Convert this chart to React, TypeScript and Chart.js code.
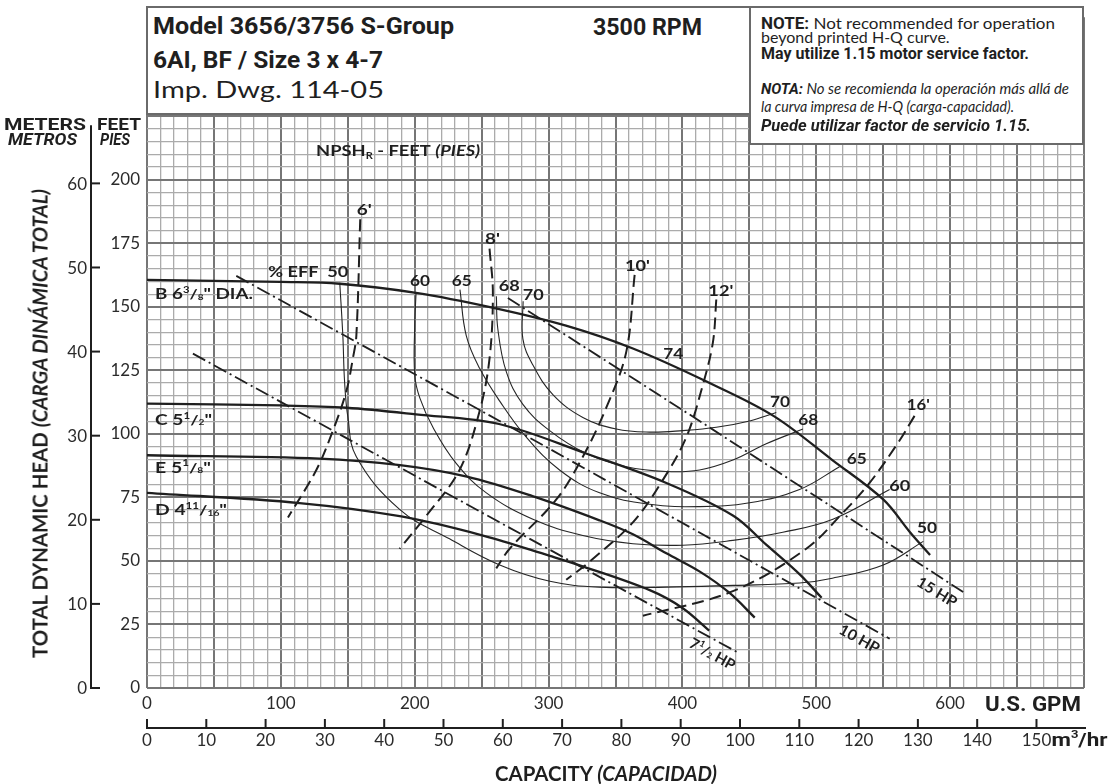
import React, { useEffect, useLayoutEffect, useRef } from "react";
import { Chart, registerables } from "chart.js";

Chart.register(...registerables);

const INK = "#1f1f1f";
const GRID_MINOR = "#ababab";
const GRID_MAJOR = "#767676";

type P = [number, number];

// ---- Head-capacity curves (GPM, feet) ----
const HEAD_B: P[] = [[0, 160.6], [100, 159.8], [144, 159.1], [201, 155.5], [258, 149.7], [313, 142.6], [363, 133.6], [418, 120.6], [468, 107.1], [512, 89.7], [550, 74.2], [570, 61.3], [585, 52.3]];
const HEAD_C: P[] = [[0, 111.9], [100, 111.2], [149, 110.3], [201, 107.7], [263, 103.9], [328, 92.3], [388, 80.7], [438, 67.8], [463, 56.2], [488, 44.5], [504, 35.5]];
const HEAD_E: P[] = [[0, 91.6], [129, 90.3], [189, 87.7], [239, 83.2], [288, 75.5], [338, 66], [363, 60.5], [388, 53], [413, 45.8], [435, 37.5], [454, 27.7]];
const HEAD_D: P[] = [[0, 76.8], [114, 72.8], [190, 67.5], [251, 60], [301, 52], [326, 47.8], [376, 38.4], [400, 31.5], [420, 22.6]];

// ---- Efficiency curves ----
const EFF_50: P[] = [[144, 159.5], [146.3, 138.7], [147.6, 120.6], [150.1, 106.5], [156.4, 91], [188.7, 70.3], [226, 58.7], [263.5, 48.4], [301, 42], [338, 39.7], [388, 39.7], [438, 40.4], [487.5, 41.3], [512, 43.2], [550, 48.4], [580, 57.7]];
const EFF_60: P[] = [[201, 155.5], [200, 142.6], [200, 123.2], [203.8, 114.2], [213.6, 102.6], [231, 88.4], [253.5, 76.8], [288.3, 66.4], [325.6, 60], [363, 56.8], [400.3, 56.2], [437.7, 58.1], [475, 61.3], [512.4, 66.4], [554.8, 78.1]];
const EFF_65: P[] = [[233.8, 156.8], [238.5, 138.7], [248.5, 125.8], [263.5, 112.9], [283.4, 98.7], [308.2, 85.8], [338.1, 76.8], [375.5, 72.3], [412.8, 71.4], [450.2, 72.9], [487.5, 78.1], [517.4, 87.1]];
const EFF_68: P[] = [[261, 154.2], [262.1, 141.3], [268.4, 124.5], [280.8, 111.6], [300.8, 101.3], [328.2, 92.3], [358.1, 87.1], [388, 85.2], [412.8, 85.8], [437.7, 89.7], [462.6, 96.1], [490, 101.9]];
const EFF_70: P[] = [[281, 152.2], [280.8, 137.4], [288.3, 127.1], [303.2, 115.5], [325.6, 106.5], [350.6, 101.9], [375.5, 100.7], [400.3, 101.3], [425.3, 102.6], [450.2, 105.1], [470.1, 108.4]];

// ---- NPSHr curves ----
const NPSH_6: P[] = [[159.3, 184.5], [156.4, 138.7], [153.8, 129.7], [148.9, 116.8], [138.9, 101.3], [126.5, 85.8], [105.3, 67.1]];
const NPSH_8: P[] = [[255.9, 172.9], [258.4, 155.5], [255.9, 129.7], [248.5, 109], [233.5, 85.8], [208.7, 67.8], [188.7, 54.8]];
const NPSH_10: P[] = [[364.3, 162.6], [358, 132.2], [343.1, 110.3], [325.6, 91], [305.8, 74.2], [270.9, 54.8], [260.9, 47.1]];
const NPSH_12: P[] = [[425.3, 152.9], [422.8, 136.1], [415.3, 119.4], [402.9, 98.7], [385.4, 81.9], [363, 65.2], [330.6, 49.7], [313.2, 42.6]];
const NPSH_16: P[] = [[573.4, 107.1], [562.2, 97.4], [539.8, 80.7], [519.9, 69], [492.5, 54.8], [437.7, 38.1], [370.5, 28.4]];

// ---- Motor power lines ----
const HP_15: P[] = [[269.6, 153.5], [412.8, 105.1], [610.8, 37.4]];
const HP_10: P[] = [[66.7, 162.2], [263.4, 105.1], [554.8, 19.4]];
const HP_7_5: P[] = [[34.3, 131.6], [263.4, 65.2], [442.7, 13.6]];

// ---- Axes ----
const GPM_LABELS = [0, 100, 200, 300, 400, 500, 600];
const FT_LABELS = [0, 25, 50, 75, 100, 125, 150, 175, 200];
const METER_TICKS = [0, 10, 20, 30, 40, 50, 60];
const M3H_TICKS = [0, 10, 20, 30, 40, 50, 60, 70, 80, 90, 100, 110, 120, 130, 140, 150];
const FT_PER_M = 3.31; // as drawn on the sheet
const GPM_PER_M3H = 4.43; // as drawn on the sheet
const GPM_MAX = 700;
const FT_MAX = 264;

type Seg = { t: string; s?: number; dy?: number; it?: boolean };
type Lab = { segs: Seg[]; gx: number; gy: number; align: "left" | "center"; size: number; w?: number; rot?: number };

const frac = (pre: string, num: string, den: string, post: string): Seg[] => [
  { t: pre },
  { t: num, s: 0.6, dy: -0.42 },
  { t: "/", s: 0.95 },
  { t: den, s: 0.55, dy: 0.02 },
  { t: post },
];
const txt = (t: string): Seg[] => [{ t }];

const LABELS: Lab[] = [
  { segs: frac("B 6", "3", "8", "\" DIA."), gx: 5.98, gy: 153.0, align: "left", size: 15, w: 98 },
  { segs: frac("C 5", "1", "2", "\""), gx: 5.98, gy: 103.5, align: "left", size: 15, w: 57 },
  { segs: frac("E 5", "1", "8", "\""), gx: 5.98, gy: 84.7, align: "left", size: 15, w: 56 },
  { segs: frac("D 4", "11", "16", "\""), gx: 5.98, gy: 67.9, align: "left", size: 15, w: 72 },
  { segs: txt("% EFF  50"), gx: 90.6, gy: 161.8, align: "left", size: 16, w: 80 },
  { segs: txt("60"), gx: 203.9, gy: 158.4, align: "center", size: 16, w: 20 },
  { segs: txt("65"), gx: 235.1, gy: 158.4, align: "center", size: 16, w: 20 },
  { segs: txt("68"), gx: 270.6, gy: 156.4, align: "center", size: 16, w: 21 },
  { segs: txt("70"), gx: 288.6, gy: 152.8, align: "center", size: 16, w: 21 },
  { segs: txt("74"), gx: 393.2, gy: 129.6, align: "center", size: 16, w: 20 },
  { segs: txt("70"), gx: 472.9, gy: 110.4, align: "center", size: 16, w: 20 },
  { segs: txt("68"), gx: 494.0, gy: 103.7, align: "center", size: 16, w: 20 },
  { segs: txt("65"), gx: 530.2, gy: 88.3, align: "center", size: 16, w: 20 },
  { segs: txt("60"), gx: 562.3, gy: 77.7, align: "center", size: 16, w: 21 },
  { segs: txt("50"), gx: 582.7, gy: 60.9, align: "center", size: 16, w: 20 },
  { segs: txt("6'"), gx: 162.3, gy: 186.3, align: "center", size: 16, w: 15 },
  { segs: txt("8'"), gx: 258.1, gy: 174.7, align: "center", size: 16, w: 15 },
  { segs: txt("10'"), gx: 366.4, gy: 164.1, align: "center", size: 16, w: 25 },
  { segs: txt("12'"), gx: 428.7, gy: 154.3, align: "center", size: 16, w: 25 },
  { segs: txt("16'"), gx: 576.2, gy: 109.5, align: "center", size: 16, w: 23 },
  {
    segs: [{ t: "NPSH" }, { t: "R", s: 0.6, dy: 0.25 }, { t: " - FEET " }, { t: "(PIES)", it: true }],
    gx: 126.3, gy: 209.5, align: "left", size: 15, w: 164,
  },
  { segs: txt("15 HP"), gx: 590.2, gy: 37.9, align: "center", size: 15, w: 44, rot: 31 },
  { segs: txt("10 HP"), gx: 532.3, gy: 19.4, align: "center", size: 15, w: 44, rot: 29 },
  { segs: frac("7", "1", "2", " HP"), gx: 422.5, gy: 13.4, align: "center", size: 15, w: 50, rot: 29 },
];

const LABEL_FONT = "Lato, 'Open Sans', sans-serif";

function segFont(sg: Seg, size: number, weight: number, fam: string) {
  return `${sg.it ? "italic " : ""}${weight} ${Math.max(6, Math.round(size * (sg.s ?? 1)))}px ${fam}`;
}

function drawRich(
  ctx: CanvasRenderingContext2D,
  segs: Seg[],
  x: number,
  yb: number,
  size: number,
  align: "left" | "center" | "right",
  w?: number,
  weight = 700,
  fam = LABEL_FONT
) {
  let total = 0;
  const widths = segs.map((sg) => {
    ctx.font = segFont(sg, size, weight, fam);
    const m = ctx.measureText(sg.t).width;
    total += m;
    return m;
  });
  const k = w ? w / total : 1;
  const drawn = total * k;
  const sx = align === "left" ? x : align === "center" ? x - drawn / 2 : x - drawn;
  ctx.save();
  ctx.translate(sx, yb);
  ctx.scale(k, 1);
  ctx.textAlign = "left";
  ctx.textBaseline = "alphabetic";
  let cx = 0;
  segs.forEach((sg, i) => {
    ctx.font = segFont(sg, size, weight, fam);
    ctx.fillText(sg.t, cx, (sg.dy ?? 0) * size);
    cx += widths[i];
  });
  ctx.restore();
}

const decorPlugin = {
  id: "decor",
  afterDatasetsDraw(chart: any) {
    const { ctx, chartArea: ca } = chart;
    const xs = chart.scales.x;
    const ys = chart.scales.y;
    ctx.save();
    ctx.fillStyle = INK;
    ctx.strokeStyle = INK;

    // metres axis (left, outside)
    const mx = ca.left - 56;
    ctx.lineWidth = 2;
    ctx.beginPath();
    ctx.moveTo(mx, ca.top + 108);
    ctx.lineTo(mx, ys.getPixelForValue(0) + 1);
    ctx.stroke();
    ctx.font = "400 17px Lato, sans-serif";
    ctx.textAlign = "right";
    ctx.textBaseline = "middle";
    METER_TICKS.forEach((m) => {
      const py = ys.getPixelForValue(m * FT_PER_M);
      ctx.beginPath();
      ctx.moveTo(mx - 1, py);
      ctx.lineTo(mx + 9, py);
      ctx.stroke();
      ctx.fillStyle = "#2b2b2b";
      ctx.fillText(String(m), mx - 4, py + 1);
    });

    // m3/hr axis (bottom, outside)
    const ay = ca.bottom + 40;
    ctx.beginPath();
    ctx.moveTo(ca.left - 1, ay);
    ctx.lineTo(ca.right + 2, ay);
    ctx.stroke();
    ctx.textAlign = "center";
    M3H_TICKS.forEach((q) => {
      const px = xs.getPixelForValue(q * GPM_PER_M3H);
      ctx.beginPath();
      ctx.moveTo(px, ay);
      ctx.lineTo(px, ay - 9);
      ctx.stroke();
      ctx.fillText(String(q), px, ay + 13);
    });
    const p150 = xs.getPixelForValue(150 * GPM_PER_M3H);
    ctx.fillStyle = INK;
    drawRich(ctx, [{ t: "m" }, { t: "3", s: 0.6, dy: -0.42 }, { t: "/hr" }], p150 + 15, ay + 18, 19, "left", 56, 700, "Roboto, Lato, sans-serif");

    // U.S. GPM
    drawRich(ctx, [{ t: "U.S. GPM" }], ca.right - 3, ca.bottom + 23, 20, "right", 96, 700, "Roboto, Lato, sans-serif");

    // in-plot labels
    ctx.fillStyle = INK;
    LABELS.forEach((lb) => {
      const px = xs.getPixelForValue(lb.gx);
      const py = ys.getPixelForValue(lb.gy);
      if (lb.rot) {
        ctx.save();
        ctx.translate(px, py);
        ctx.rotate((lb.rot * Math.PI) / 180);
        drawRich(ctx, lb.segs, 0, lb.size * 0.36, lb.size, "center", lb.w);
        ctx.restore();
      } else {
        drawRich(ctx, lb.segs, px, py, lb.size, lb.align, lb.w);
      }
    });
    ctx.restore();
  },
};

const pts = (a: P[]) => a.map(([x, y]) => ({ x, y }));

function buildConfig(): any {
  const base = { pointRadius: 0, pointHoverRadius: 0, fill: false, borderCapStyle: "butt" };
  const datasets: any[] = [];
  [HEAD_B, HEAD_C, HEAD_E, HEAD_D].forEach((d) =>
    datasets.push({ ...base, data: pts(d), borderColor: INK, borderWidth: 2.3, tension: 0.35 })
  );
  [EFF_50, EFF_60, EFF_65, EFF_68, EFF_70].forEach((d) =>
    datasets.push({ ...base, data: pts(d), borderColor: "#262626", borderWidth: 1.1, tension: 0.4 })
  );
  [NPSH_6, NPSH_8, NPSH_10, NPSH_12, NPSH_16].forEach((d) =>
    datasets.push({ ...base, data: pts(d), borderColor: INK, borderWidth: 2, borderDash: [12, 6], tension: 0.35 })
  );
  [HP_15, HP_10, HP_7_5].forEach((d) =>
    datasets.push({ ...base, data: pts(d), borderColor: INK, borderWidth: 1.8, borderDash: [14, 4, 2, 4], tension: 0 })
  );

  const gridColor = (step: number) => (c: any) =>
    c.tick && Math.round(c.tick.value) % step === 0 ? GRID_MAJOR : GRID_MINOR;
  const gridWidth = (step: number) => (c: any) =>
    c.tick && Math.round(c.tick.value) % step === 0 ? 2 : 1.3;

  return {
    type: "line",
    data: { datasets },
    options: {
      responsive: false,
      animation: false,
      events: [],
      layout: { padding: { left: 87, right: 28, top: 6, bottom: 0 } },
      plugins: { legend: { display: false }, tooltip: { enabled: false } },
      scales: {
        x: {
          type: "linear",
          min: 0,
          max: GPM_MAX,
          afterFit: (s: any) => {
            s.height = 96;
          },
          border: { display: false },
          grid: { drawTicks: false, color: gridColor(50), lineWidth: gridWidth(50) },
          ticks: {
            stepSize: 10,
            autoSkip: false,
            maxRotation: 0,
            padding: 5,
            color: "#2b2b2b",
            font: { family: "Lato, sans-serif", size: 17 },
            callback: (v: any) => {
              const n = Math.round(Number(v));
              return GPM_LABELS.includes(n) ? String(n) : "";
            },
          },
        },
        y: {
          type: "linear",
          min: 0,
          max: FT_MAX,
          afterFit: (s: any) => {
            s.width = 60;
          },
          border: { display: false },
          grid: { drawTicks: false, color: gridColor(25), lineWidth: gridWidth(25) },
          ticks: {
            stepSize: 5,
            autoSkip: false,
            padding: 7,
            color: "#2b2b2b",
            font: { family: "Lato, sans-serif", size: 17 },
            callback: (v: any) => {
              const n = Math.round(Number(v));
              return FT_LABELS.includes(n) && Math.abs(Number(v) - n) < 1e-6 ? String(n) : "";
            },
          },
        },
      },
    },
    plugins: [decorPlugin],
  };
}

function Fit({ x, base, w, children, style }: { x: number; base: number; w?: number; children: any; style?: any }) {
  const ref = useRef<HTMLDivElement>(null);
  const mk = useRef<HTMLSpanElement>(null);
  useLayoutEffect(() => {
    const el = ref.current;
    const m = mk.current;
    if (!el || !m) return;
    el.style.transform = "none";
    const nat = el.getBoundingClientRect().width;
    const b = m.offsetTop;
    el.style.top = `${base - b}px`;
    if (w && nat > 0) el.style.transform = `scaleX(${w / nat})`;
  }, []);
  return (
    <div
      ref={ref}
      style={{ position: "absolute", left: x, top: base, whiteSpace: "nowrap", transformOrigin: "0 0", lineHeight: 1, color: INK, ...style }}
    >
      {children}
      <span ref={mk} style={{ display: "inline-block", width: 0, height: 0, verticalAlign: "baseline" }} />
    </div>
  );
}

function RotFit({ cx, cy, len, children, style }: { cx: number; cy: number; len: number; children: any; style?: any }) {
  const ref = useRef<HTMLDivElement>(null);
  useLayoutEffect(() => {
    const el = ref.current;
    if (!el) return;
    const r = el.getBoundingClientRect();
    el.style.left = `${cx - r.width / 2}px`;
    el.style.top = `${cy - r.height / 2}px`;
    el.style.transform = `rotate(-90deg) scaleX(${len / r.width})`;
  }, []);
  return (
    <div ref={ref} style={{ position: "absolute", left: 0, top: 0, whiteSpace: "nowrap", transformOrigin: "50% 50%", lineHeight: 1, color: INK, ...style }}>
      {children}
    </div>
  );
}

const COND = { fontFamily: "Roboto, 'Liberation Sans', sans-serif", fontWeight: 700 };
const BOOK = { fontFamily: "Lato, 'Open Sans', sans-serif", fontWeight: 400 };

export default function App() {
  const ref = useRef<HTMLCanvasElement>(null);
  useEffect(() => {
    if (!ref.current) return;
    const chart = new Chart(ref.current, buildConfig());
    return () => chart.destroy();
  }, []);

  const box: any = { position: "absolute", background: "#fff", border: "2px solid #6a6a6a", boxSizing: "border-box" };

  return (
    <div style={{ position: "absolute", left: 0, top: 0, width: 1112, height: 784, background: "#fff", overflow: "hidden" }}>
      <canvas ref={ref} width={1112} height={784} style={{ position: "absolute", left: 0, top: 0, width: 1112, height: 784 }} />
      <div style={{ ...box, left: 146, top: 6, width: 938, height: 109 }} />
      <div style={{ ...box, left: 749, top: 6, width: 335, height: 139 }} />

      <Fit x={153} base={34} w={301} style={{ ...COND, fontSize: 23 }}>Model 3656/3756 S-Group</Fit>
      <Fit x={153} base={68} w={230} style={{ ...COND, fontSize: 23 }}>6AI, BF / Size 3 x 4-7</Fit>
      <Fit x={153} base={98} w={231} style={{ ...BOOK, fontSize: 23 }}>Imp. Dwg. 114-05</Fit>
      <Fit x={593} base={35} w={109} style={{ ...COND, fontSize: 24 }}>3500 RPM</Fit>

      <Fit x={761} base={29} w={294} style={{ ...BOOK, fontSize: 16 }}>
        <span style={{ ...COND }}>NOTE:</span> Not recommended for operation
      </Fit>
      <Fit x={761} base={43} style={{ ...BOOK, fontSize: 16 }}>beyond printed H-Q curve.</Fit>
      <Fit x={761} base={59} w={268} style={{ ...COND, fontSize: 16.5 }}>May utilize 1.15 motor service factor.</Fit>
      <Fit x={761} base={94} w={308} style={{ ...BOOK, fontSize: 15, fontStyle: "italic" }}>
        <span style={{ ...COND }}>NOTA:</span> No se recomienda la operación más allá de
      </Fit>
      <Fit x={761} base={112} w={253} style={{ ...BOOK, fontSize: 15, fontStyle: "italic" }}>la curva impresa de H-Q (carga-capacidad).</Fit>
      <Fit x={761} base={130.6} w={270} style={{ ...COND, fontSize: 16.5, fontStyle: "italic" }}>Puede utilizar factor de servicio 1.15.</Fit>

      <Fit x={3.6} base={130.4} w={82} style={{ ...COND, fontSize: 17 }}>METERS</Fit>
      <Fit x={97} base={130.4} w={44} style={{ ...COND, fontSize: 17 }}>FEET</Fit>
      <Fit x={7.9} base={144.6} w={69} style={{ ...COND, fontSize: 17, fontStyle: "italic" }}>METROS</Fit>
      <Fit x={100} base={144.6} w={30} style={{ ...COND, fontSize: 17, fontStyle: "italic" }}>PIES</Fit>

      <RotFit cx={39} cy={423.5} len={469} style={{ fontFamily: "Lato, sans-serif", fontWeight: 700, fontSize: 21 }}>
        TOTAL DYNAMIC HEAD <span style={{ fontStyle: "italic" }}>(CARGA DINÁMICA TOTAL)</span>
      </RotFit>

      <Fit x={495} base={780.5} w={222} style={{ fontFamily: "Lato, sans-serif", fontWeight: 700, fontSize: 20 }}>
        CAPACITY <span style={{ fontStyle: "italic" }}>(CAPACIDAD)</span>
      </Fit>
    </div>
  );
}
